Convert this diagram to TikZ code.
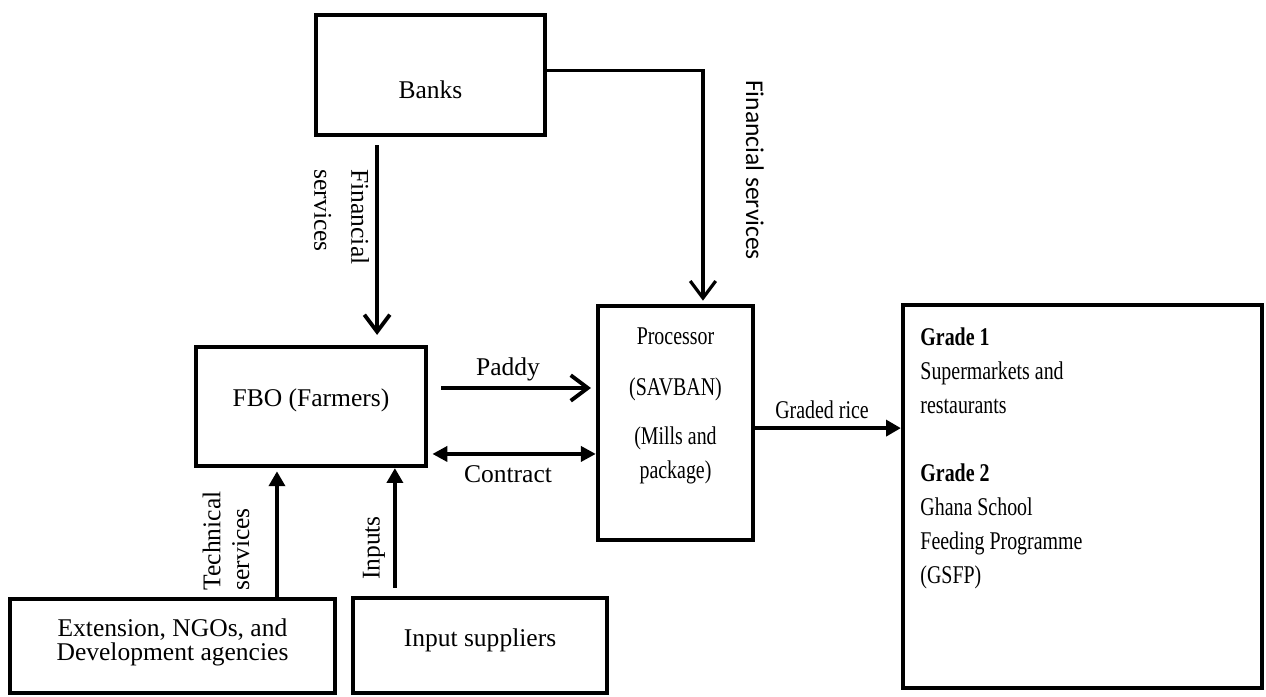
\documentclass[tikz,border=0pt]{standalone}
\usepackage{fontspec}
\setmainfont{Liberation Serif}
\newfontfamily\condserif[FakeStretch=0.78]{Liberation Serif}
\newfontfamily\sanslbl{Carlito}
\usetikzlibrary{arrows.meta}

\begin{document}
\begin{tikzpicture}[x=0.47pt,y=-0.47pt,>={Straight Barb[length=8pt,width=12pt]}]
\tikzstyle{every node}=[font=\fontsize{12}{14.5}\selectfont,inner sep=0pt];
\tikzstyle{box}=[draw,line width=2pt,rectangle];
\tikzstyle{flow}=[line width=1.8pt];
\tikzstyle{tri}=[line width=1.8pt,-{Triangle[length=7pt,width=7.5pt]}];
\useasboundingbox (0,0) rectangle (1266,696);
% boxes
    \node[box,minimum width=107.6pt,minimum height=56.4pt,text height=22pt] (banks) at (430.5,75) {Banks};
    \node[box,minimum width=108.1pt,minimum height=55.9pt,text depth=8pt] (fbo) at (311,406.5) {FBO (Farmers)};
    \node[box,minimum width=72.9pt,minimum height=110pt] (proc) at (675.5,423) {};
    \node[box,minimum width=168.7pt,minimum height=180pt] (grade) at (1082.5,496.5) {};
    \node[box,minimum width=152.8pt,minimum height=44.2pt,align=center,text depth=6pt,font=\fontsize{12}{11.5}\selectfont] (ext) at (172.5,646) {Extension, NGOs, and\\Development agencies};
    \node[box,minimum width=119.4pt,minimum height=44.7pt,text depth=7pt] (inp) at (480,645.5) {Input suppliers};
%   box texts
    \node[font=\condserif\fontsize{12}{16}\selectfont,align=center,anchor=north] (proctxt) at (675.5,327) {Processor\\[8pt](SAVBAN)\\[7pt](Mills and\\package)};
    \node[font=\condserif\fontsize{12}{16}\selectfont,align=left,anchor=north west] (gradetxt) at (920,327) {\textbf{Grade 1}\\Supermarkets and\\restaurants\\[16pt]\textbf{Grade 2}\\Ghana School\\Feeding Programme\\(GSFP)};
% edges
    \coordinate (finL) at ([xshift=-25.1pt,yshift=-3.8pt]banks.south);
    \draw[flow,->,shorten >=4.7pt] (finL) -- (finL |- fbo.north);
    \draw[flow,line width=1.5pt,->,shorten >=1.5pt] ([yshift=2pt]banks.east) -| ([xshift=12.9pt]proc.north);
    \coordinate (padL) at ([xshift=6.1pt,yshift=8.7pt]fbo.east);
    \draw[flow,->,shorten >=2.3pt] (padL) -- (padL -| proc.west);
    \coordinate (ctrL) at ([xshift=2pt,yshift=-22.3pt]fbo.east);
    \draw[flow,{Triangle[length=7pt,width=7pt]}-{Triangle[length=7pt,width=7pt]}] (ctrL) -- (ctrL -| proc.west);
    \coordinate (riceL) at ([yshift=-2.4pt]proc.east);
    \draw[tri] (riceL) -- (riceL -| grade.west);
    \coordinate (techB) at ([xshift=49.1pt]ext.north);
    \draw[tri,shorten >=1.5pt] (techB) -- (techB |- fbo.south);
    \coordinate (inpB) at ([xshift=-40pt,yshift=3.8pt]inp.north);
    \draw[tri] (inpB) -- (inpB |- fbo.south);
% labels
    \node[rotate=-90,align=left,font=\fontsize{12}{17.4}\selectfont] (finLlbl) at (341.5,217) {Financial\\services};
    \node[rotate=-90,font=\sanslbl\fontsize{12}{14.5}\selectfont] (finRlbl) at (755,170) {Financial services};
    \node (padlbl) at (508,369) {Paddy};
    \node (ctrlbl) at (508,474.5) {Contract};
    \node[font=\condserif\fontsize{12}{14.5}\selectfont] (ricelbl) at (822,410) {Graded rice};
    \node[rotate=90,align=left,font=\fontsize{12}{13.6}\selectfont] (techlbl) at (226,541) {Technical\\services};
    \node[rotate=90] (inplbl) at (374,548) {Inputs};
\end{tikzpicture}
\end{document}
